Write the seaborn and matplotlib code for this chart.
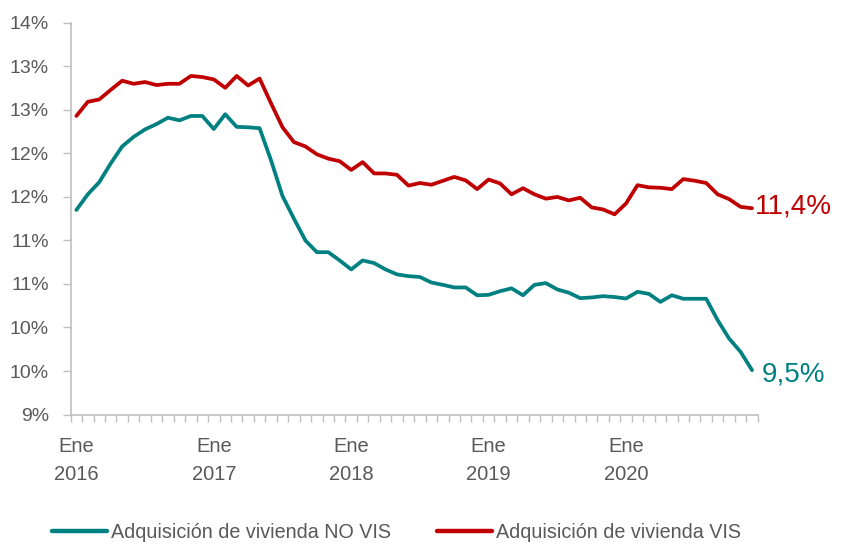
import numpy as np
import pandas as pd
import matplotlib
matplotlib.use("Agg")
import matplotlib.pyplot as plt
import seaborn as sns
from matplotlib.ticker import FixedLocator, FuncFormatter

# ---- data (monthly, Ene 2016 .. Dic 2020), in % ----
years = ["2016", "2017", "2018", "2019", "2020"]
no_vis = [11.35, 11.53, 11.67, 11.885, 12.08, 12.19, 12.276, 12.337, 12.41, 12.38,
          12.43, 12.43, 12.28, 12.45, 12.305, 12.30, 12.29, 11.92, 11.51, 11.25,
          11.00, 10.865, 10.865, 10.77, 10.667, 10.77, 10.74, 10.667, 10.61, 10.59,
          10.58, 10.517, 10.49, 10.46, 10.46, 10.37, 10.375, 10.417, 10.45, 10.37,
          10.49, 10.51, 10.437, 10.40, 10.337, 10.345, 10.36, 10.35, 10.333, 10.41,
          10.386, 10.294, 10.37, 10.33, 10.33, 10.33, 10.084, 9.873, 9.72, 9.51]
vis = [12.43, 12.593, 12.62, 12.73, 12.835, 12.80, 12.82, 12.785, 12.80, 12.80,
       12.89, 12.877, 12.85, 12.754, 12.89, 12.78, 12.86, 12.575, 12.30, 12.13,
       12.08, 11.99, 11.94, 11.91, 11.81, 11.90, 11.77, 11.77, 11.754, 11.63,
       11.66, 11.64, 11.685, 11.73, 11.69, 11.59, 11.70, 11.655, 11.53, 11.60,
       11.53, 11.48, 11.50, 11.46, 11.49, 11.38, 11.356, 11.30, 11.425, 11.635,
       11.61, 11.605, 11.59, 11.705, 11.686, 11.66, 11.53, 11.475, 11.386, 11.37]
series_names = ["Adquisición de vivienda NO VIS", "Adquisición de vivienda VIS"]
end_labels = ["9,5%", "11,4%"]
y_ticks = [9.0, 9.5, 10.0, 10.5, 11.0, 11.5, 12.0, 12.5, 13.0, 13.5]

TEAL = "#008080"
RED = "#C00000"
GREY_TXT = "#595959"
GREY_AX = "#BFBFBF"

n = len(no_vis)
df = pd.DataFrame({
    "mes": list(range(n)) * 2,
    "valor": no_vis + vis,
    "serie": [series_names[0]] * n + [series_names[1]] * n,
})

sns.set_theme(style="white")
plt.rcParams["font.family"] = ["Liberation Sans", "DejaVu Sans"]

fig = plt.figure(figsize=(8.41, 5.44), dpi=100)
ax = fig.add_axes([0.084, 0.238, 0.817, 0.720])

sns.lineplot(data=df, x="mes", y="valor", hue="serie",
             palette={series_names[0]: TEAL, series_names[1]: RED},
             linewidth=2.7, ax=ax, legend=True)

ax.set_xlim(-0.5, n - 0.5)
ax.set_ylim(9.0, 13.5)

# y axis
ax.yaxis.set_major_locator(FixedLocator(y_ticks))
ax.yaxis.set_major_formatter(FuncFormatter(lambda v, p: f"{int(np.floor(v + 0.5))}%"))
ax.tick_params(axis="y", which="major", direction="out", length=5.5, width=1,
               color=GREY_AX, labelcolor=GREY_TXT, labelsize=14, pad=10, left=True)

# x axis
ax.set_xticks([12 * k for k in range(len(years))])
ax.set_xticklabels([f"Ene\n{y}" for y in years])
ax.set_xticks(np.arange(-0.5, n, 1.0), minor=True)
ax.tick_params(axis="x", which="major", length=0, labelcolor=GREY_TXT, labelsize=14.5, pad=16)
ax.tick_params(axis="x", which="minor", direction="out", length=5, width=1,
               color=GREY_AX, bottom=True)
for lbl in ax.get_xticklabels():
    lbl.set_linespacing(1.6)

ax.set_xlabel("")
ax.set_ylabel("")
for s in ["top", "right"]:
    ax.spines[s].set_visible(False)
for s in ["left", "bottom"]:
    ax.spines[s].set_color(GREY_AX)
    ax.spines[s].set_linewidth(1.2)

# end labels
ax.annotate(end_labels[0], xy=(n - 1, no_vis[-1]), xytext=(7, -3), textcoords="offset points",
            color=TEAL, fontsize=20, va="center", ha="left", annotation_clip=False)
ax.annotate(end_labels[1], xy=(n - 1, vis[-1]), xytext=(2, 1), textcoords="offset points",
            color=RED, fontsize=20, va="center", ha="left", annotation_clip=False)

# legend
ax.legend_.remove()
handles = [plt.Line2D([], [], color=TEAL, linewidth=3.2),
           plt.Line2D([], [], color=RED, linewidth=3.2)]
fig.legend(handles, series_names, loc="center", bbox_to_anchor=(0.4715, 0.021),
           ncol=2, frameon=False, fontsize=14.2, handlelength=2.8, handletextpad=0.2,
           columnspacing=2.3, labelcolor=GREY_TXT)

fig.savefig("out.png", dpi=100)
